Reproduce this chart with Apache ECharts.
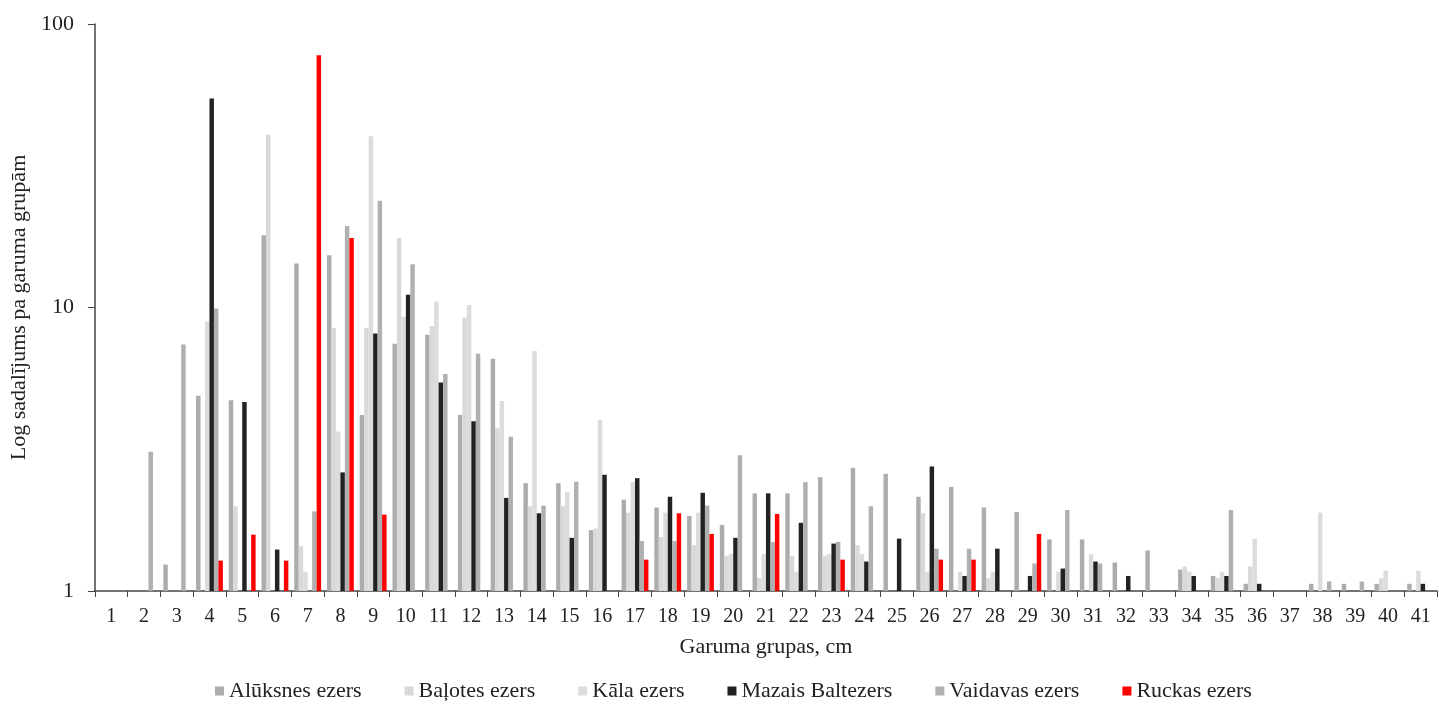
<!DOCTYPE html>
<html>
<head>
<meta charset="utf-8">
<script src="https://cdn.jsdelivr.net/npm/echarts@6/dist/echarts.min.js"></script>
<style>
html,body{margin:0;padding:0;background:#fff;}
#chart{width:1439px;height:704px;}
</style>
</head>
<body>
<div id="chart"></div>
<script>
var groups=[]
for(var i=1;i<=41;i++){groups.push(String(i))}
var yTicks=[1,10,100]

// vērtības nolasītas no attēla (null = nav joslas)
var aluksnes=[null,null,1.24,4.88,4.71,18.0,14.3,15.3,4.18,7.45,8.01,4.18,6.60,2.40,2.40,1.64,2.10,1.97,1.84,1.71,2.21,2.21,2.52,2.72,2.59,2.15,2.33,1.97,1.90,1.52,1.52,1.26,1.39,1.19,1.13,1.06,null,1.06,1.06,1.06,1.06]
var balotes=[null,null,null,null,1.99,40.8,1.44,8.48,8.48,17.6,8.61,9.20,3.75,1.99,1.99,1.66,1.89,1.55,1.45,1.33,1.11,1.33,1.33,1.45,null,1.88,null,1.11,null,null,null,null,null,1.22,1.11,1.22,null,null,null,1.11,null]
var kala=[null,null,null,8.95,null,null,1.17,3.65,40.2,9.28,10.5,10.2,4.68,7.02,2.23,4.02,2.42,1.89,1.89,1.35,1.35,1.17,1.35,1.35,null,1.17,1.17,1.17,null,1.17,1.35,null,null,1.17,1.17,1.53,null,1.89,null,1.18,1.18]
var mazais=[null,null,null,54.6,4.64,1.40,null,2.62,8.10,11.1,5.44,3.97,2.13,1.88,1.54,2.57,2.50,2.15,2.22,1.54,2.21,1.74,1.47,1.27,1.53,2.75,1.13,1.41,1.13,1.20,1.27,1.13,null,1.13,1.13,1.06,null,null,null,null,1.06]
var vaidavas=[null,3.10,7.40,9.92,null,null,1.91,19.4,23.8,14.2,5.83,6.87,3.50,2.00,2.43,null,1.50,1.50,2.00,3.01,1.49,2.42,1.49,1.99,null,1.41,1.41,null,1.25,1.93,1.25,null,null,null,1.93,null,null,1.08,1.08,null,null]
var ruckas=[null,null,null,1.28,1.58,1.28,77.6,17.6,1.86,null,null,null,null,null,null,null,1.29,1.88,1.59,null,1.87,null,1.29,null,null,1.29,1.29,null,1.59,null,null,null,null,null,null,null,null,null,null,null,null]

var names=["Alūksnes ezers","Baļotes ezers","Kāla ezers","Mazais Baltezers","Vaidavas ezers","Ruckas ezers"]
var values=[aluksnes,balotes,kala,mazais,vaidavas,ruckas]
var colors=["#acacac","#d9d9d9","#dcdcdc","#222222","#b0b0b0","#ff0000"]

var font="Liberation Serif"
var mychart=echarts.init(document.getElementById('chart'))
var series=[]
for(var s=0;s<names.length;s++){
	series.push({
		name:names[s],
		type:'bar',
		data:values[s],
		barGap:0,
		barCategoryGap:'18%',
		itemStyle:{color:colors[s]}
	})
}
var option={
	animation:false,
	color:colors,
	textStyle:{fontFamily:font,color:'#222'},
	grid:{left:90,right:2,top:24,bottom:113,containLabel:false},
	legend:{
		data:names,
		top:675,
		left:210,
		itemWidth:9,
		itemHeight:9,
		itemGap:43,
		icon:'rect',
		textStyle:{fontFamily:font,fontSize:22,color:'#222'}
	},
	xAxis:{
		type:'category',
		data:groups,
		name:'Garuma grupas, cm',
		nameLocation:'middle',
		nameGap:45,
		nameTextStyle:{fontFamily:font,fontSize:22,color:'#222'},
		axisLine:{lineStyle:{color:'#444',width:1.5}},
		axisTick:{show:true,length:6,lineStyle:{color:'#444'}},
		axisLabel:{fontFamily:font,fontSize:20,color:'#222',margin:16,interval:0},
		splitLine:{show:false}
	},
	yAxis:{
		type:'log',
		logBase:10,
		min:yTicks[0],
		max:yTicks[yTicks.length-1],
		name:'Log sadalījums pa garuma grupām',
		nameLocation:'middle',
		nameGap:55,
		nameTextStyle:{fontFamily:font,fontSize:22,color:'#222'},
		axisLine:{show:true,lineStyle:{color:'#444',width:1.5}},
		axisTick:{show:true,length:7,lineStyle:{color:'#444'}},
		axisLabel:{fontFamily:font,fontSize:22,color:'#222',margin:21},
		splitLine:{show:false},
		minorTick:{show:false}
	},
	series:series
}
mychart.setOption(option)
</script>
</body>
</html>
